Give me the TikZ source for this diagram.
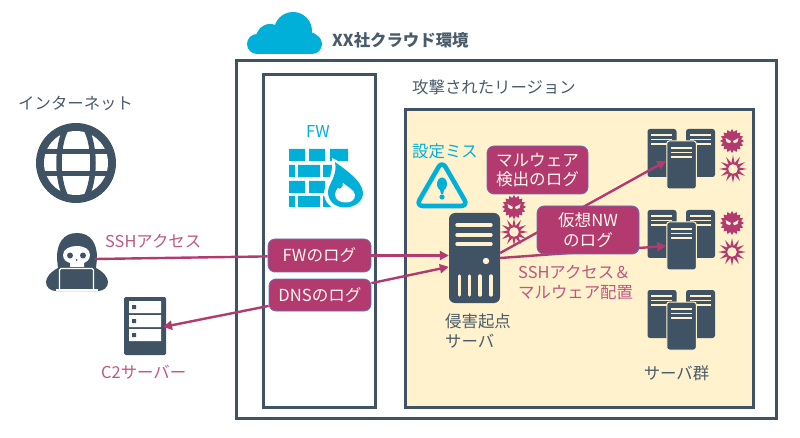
\documentclass[tikz,border=0pt]{standalone}
\usepackage{fontspec}
\setmainfont{Noto Sans CJK JP}
\usetikzlibrary{arrows.meta,calc}
\definecolor{dk}{HTML}{3F5364}
\definecolor{mg}{HTML}{B23A6E}
\definecolor{yl}{HTML}{FFF2CC}
\definecolor{cy}{HTML}{00B0D8}
\definecolor{tx}{HTML}{4A5B6A}
\pgfdeclarelayer{top}
\pgfsetlayers{main,top}
\newcommand{\fs}[1]{\fontsize{#1}{#1}\selectfont}
\tikzset{
  frame/.style={draw=dk,line width=3pt},
  logbox/.style={rectangle,draw=dk!60!blue!70,line width=.8pt,fill=mg,rounded corners=7pt,text=yl!40!white,align=center,inner sep=0pt,font=\fs{16.6}},
  conn/.style={draw=mg,line width=2.4pt,-{Triangle[length=9pt,width=9pt]}},
  plain/.style={draw=mg,line width=2.4pt},
  lbl/.style={inner sep=0pt,text=tx,font=\fs{16.4},align=left},
  mglbl/.style={inner sep=0pt,text=mg!85!white,font=\fs{16.4},align=left},
  cylbl/.style={inner sep=0pt,text=cy,font=\fs{16.4}},
  srvpart/.style={rectangle,fill=dk,rounded corners=2.5pt,inner sep=0pt},
  yline/.style={draw=yl,line width=1.4pt},
}
% virus and splash badges
\newcommand{\virus}[2]{%
  \begin{scope}[shift={(#1,#2)}]
  \fill[mg] plot[domain=0:360,samples=33,variable=\t] ({(10.6+1.4*cos(16*\t))*cos(\t)},{(10.6+1.4*cos(16*\t))*sin(\t)})--cycle;
  \fill[yl] (-6.5,-3)--(-1,0)--(-2,2.2)--(-5.5,1)--cycle;
  \fill[yl] (6.5,-3)--(1,0)--(2,2.2)--(5.5,1)--cycle;
  \end{scope}}
\newcommand{\splash}[2]{%
  \begin{scope}[shift={(#1,#2)}]
  \fill[mg] plot[domain=0:360,samples=25,variable=\t] ({(10+3.8*cos(12*\t))*cos(\t)},{(10+3.8*cos(12*\t))*sin(\t)})--cycle;
  \fill[yl] (0,0) circle (4.8);
  \end{scope}}
% server group: #1 name prefix, #2 y offset
\newcommand{\srvgroup}[2]{%
  \begin{scope}[shift={(0,#2)}]
  \node[srvpart,minimum width=29pt,minimum height=48pt] (#1l) at (662,153) {};
  \node[srvpart,minimum width=29pt,minimum height=48pt] (#1r) at (700.5,153) {};
  \foreach \yy in {135,139.5,144}{\draw[yline] (651,\yy)--(672,\yy); \draw[yline] (690,\yy)--(711,\yy);}
  \node[srvpart,minimum width=29.5pt,minimum height=48pt,draw=yl,line width=1pt] (#1c) at (681.5,165) {};
  \foreach \yy in {148,152.5,157}{\draw[yline] (671,\yy)--(692,\yy);}
  \end{scope}}
\begin{document}
\begin{tikzpicture}[x=1pt,y=-1pt]
\useasboundingbox (0,0) rectangle (800,438);
% frames
\draw[frame] (236,61) rectangle (776,418);
\draw[frame] (263,75) rectangle (375,407);
\draw[frame,fill=yl] (405,110) rectangle (753,407);
% cloud
\begin{scope}[fill=cy]
\fill (258,35) rectangle (310,54);
\fill[rounded corners=10pt] (247,34) rectangle (322,54);
\fill (293,31) circle (19);
\fill (270,38) circle (14);
\fill (309,43) circle (11);
\end{scope}
\node[inner sep=0pt,anchor=west,text=tx,font=\fs{16.4}\bfseries] (title) at (332,40) {XX社クラウド環境};
\node[lbl,anchor=west] (region) at (412,87) {攻撃されたリージョン};
\node[lbl,anchor=west] (inet) at (18,103) {インターネット};
% globe
\fill[dk] (76,163) circle (40);
\fill[white] (76,163) circle (32);
\begin{scope}
\clip (76,163) circle (33);
\draw[dk,line width=5.5pt] (76,163) ellipse (17 and 42);
\draw[dk,line width=5pt] (30,152)--(122,152) (30,174)--(122,174);
\end{scope}
% firewall
\node[cylbl] (fw) at (318,131) {FW};
\fill[cy] (289,149) rectangle (305,161) (309,149) rectangle (325,161) (330,149) rectangle (348,161)
 (289,165) rectangle (295,177) (298,165) rectangle (320,177) (323,165) rectangle (342,177)
 (289,181) rectangle (305,193) (309,181) rectangle (325,193) (329,181) rectangle (345,193)
 (289,196) rectangle (295,207) (298,196) rectangle (320,207) (323,196) rectangle (345,207);
\path[fill=white] (332,158) .. controls (341,162) and (368,178) .. (367,194) .. controls (366,206) and (355,211) .. (345,211) .. controls (333,211) and (324,203) .. (324,193) .. controls (324,185) and (334,178) .. (332,158) -- cycle;
\path[fill=cy] (335,162) .. controls (343,168) and (363,181) .. (363,193) .. controls (363,202) and (354,207.5) .. (345,207.5) .. controls (335,207.5) and (328,201) .. (328,192) .. controls (328,184) and (338,176) .. (335,162) -- cycle;
\path[fill=white] (343,183) .. controls (346,186) and (355,190) .. (355,195) .. controls (355,200) and (351,202.5) .. (346,202.5) .. controls (340,202.5) and (335,200) .. (335,194) .. controls (335,191) and (337,190) .. (338,188) .. controls (340,190) and (343,188) .. (343,183) -- cycle;
% log boxes (above connectors)
\begin{pgfonlayer}{top}
\node[logbox,minimum width=103pt,minimum height=33pt] (fwlog) at (319.5,255.5) {FWのログ};
\node[logbox,minimum width=102pt,minimum height=32pt] (dnslog) at (320,295) {DNSのログ};
\node[logbox,minimum width=101pt,minimum height=48pt] (mwlog) at (537.5,170) {マルウェア\\[3pt]検出のログ};
\node[logbox,minimum width=102pt,minimum height=48pt] (vnlog) at (588,230) {仮想NW\\[3pt]のログ};
\end{pgfonlayer}
% hacker
\fill[dk] (77,233) .. controls (63,233) and (57,244) .. (57,257) .. controls (57,262) and (58,265) .. (58,268) .. controls (50,272) and (46,278) .. (46,282) .. controls (46,287) and (50,291) .. (56,291) -- (98,291) .. controls (104,291) and (108,287) .. (108,282) .. controls (108,278) and (104,272) .. (96,268) .. controls (96,265) and (97,262) .. (97,257) .. controls (97,244) and (91,233) .. (77,233) -- cycle;
\fill[white] (63,255) .. controls (63,249) and (70,246) .. (76.5,246) .. controls (84,246) and (90,249) .. (90,255) .. controls (90,260) and (86,262) .. (84,263) -- (84,267) -- (70,267) -- (70,263) .. controls (67,262) and (63,260) .. (63,255) -- cycle;
\fill[dk] (70,255.5) circle (3) (83,255.5) circle (3) (76.5,260) circle (1);
\draw[white,line width=1.3pt,fill=dk,rounded corners=1.5pt] (59.5,289) -- (59.5,268.5) -- (93.5,268.5) -- (93.5,289);
\draw[white,line width=1.3pt] (56,290) -- (98,290);
\coordinate (hacker) at (95,259);
\node[mglbl,anchor=west] (ssh) at (105,241) {SSHアクセス};
% C2
\node[rectangle,fill=dk,rounded corners=1.5pt,minimum width=42pt,minimum height=58pt,inner sep=0pt] (c2) at (145,326) {};
\fill[white] (129,301) rectangle (161,313) (129,315) rectangle (161,327) (129,329) rectangle (161,341);
\fill[dk] (132,305) rectangle (136,309) (132,319) rectangle (136,323) (132,333) rectangle (136,337);
\coordinate (c2port) at (163,327);
\node[mglbl,anchor=west] (c2t) at (101,372) {C2サーバー};
% warning
\node[cylbl,anchor=west] (miss) at (412,151) {設定ミス};
\draw[cy,line width=4.6pt,line join=round,rounded corners=7pt] (442,161) -- (468,206) -- (416,206) -- cycle;
\fill[cy] (442,184) ellipse (5 and 6.5);
\fill[cy] (439,186) -- (445,186) -- (443,194) -- (441,194) -- cycle;
\fill[cy] (442,197) circle (2.6);
% main server
\node[rectangle,fill=dk,rounded corners=6pt,minimum width=51pt,minimum height=90pt,inner sep=0pt] (srv) at (474.5,258) {};
\foreach \yy in {225,235,244}{\draw[yl,line width=3.4pt,line cap=round] (457,\yy)--(491,\yy);}
\fill[yl] (486,261) circle (3.2);
\foreach \xx in {459.5,469.5,480,491}{\draw[yl,line width=3.4pt,line cap=round] (\xx,276)--(\xx,295);}
\node[lbl,anchor=north west] (srvt) at (445,314) {侵害起点\\[3.5pt]サーバ};
% server groups
\srvgroup{ga}{0}
\srvgroup{gb}{81}
\srvgroup{gc}{161}
\node[lbl] (grpt) at (676.5,373) {サーバ群};
\node[mglbl,anchor=north west] (sshmw) at (518,265) {SSHアクセス＆\\[3.5pt]マルウェア配置};
% badges
\virus{514}{207}\splash{514}{232}
\virus{732}{141}\splash{733}{169}
\virus{732}{223}\splash{732}{252}
% connectors
\draw[plain] (hacker) -- (fwlog.181);
\draw[conn] (fwlog.east) -- (srv.west |- fwlog.east);
\draw[conn] (dnslog.13) -- (srv.199);
\draw[conn] (dnslog.192) -- (c2port);
\draw[conn] (srv.11) -- (gac.165);
\draw[conn] (srv.east) -- (gbc.west);
\end{tikzpicture}
\end{document}
